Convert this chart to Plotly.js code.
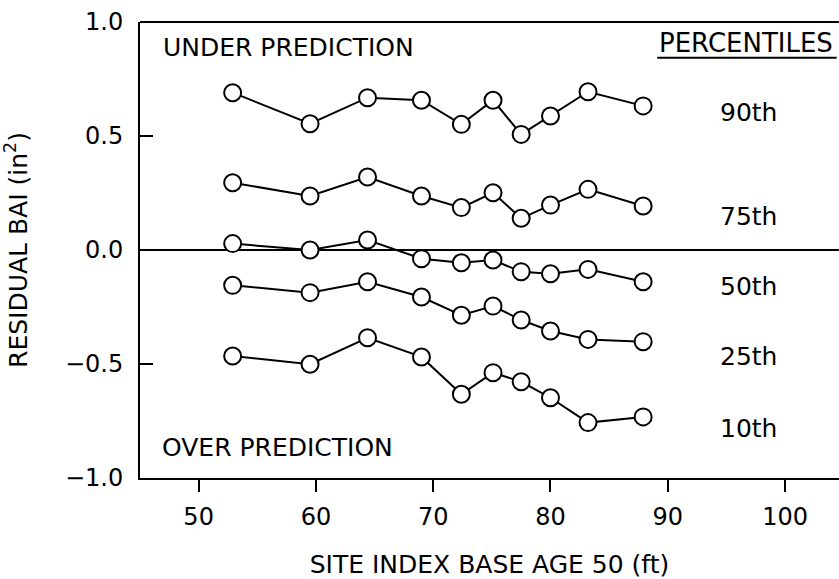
<!DOCTYPE html>
<html><head><meta charset="utf-8">
<script src="https://cdn.plot.ly/plotly-3.0.1.min.js"></script>
<style>html,body{margin:0;padding:0;background:#fff}</style>
</head><body><div id="chart" style="width:839px;height:579px"></div>
<script>
const siteIndex = [52.9, 59.5, 64.4, 69.0, 72.4, 75.1, 77.5, 80.0, 83.2, 87.9];
const p90 = [0.690, 0.554, 0.668, 0.657, 0.551, 0.657, 0.507, 0.588, 0.694, 0.632];
const p75 = [0.295, 0.237, 0.320, 0.237, 0.186, 0.251, 0.139, 0.197, 0.266, 0.193];
const p50 = [0.028, 0.000, 0.044, -0.038, -0.056, -0.044, -0.095, -0.104, -0.085, -0.139];
const p25 = [-0.155, -0.187, -0.139, -0.206, -0.286, -0.246, -0.307, -0.355, -0.392, -0.402];
const p10 = [-0.465, -0.501, -0.385, -0.469, -0.633, -0.538, -0.578, -0.648, -0.757, -0.732];
const seriesNames = ["90th", "75th", "50th", "25th", "10th"];
const seriesValues = [p90, p75, p50, p25, p10];
const labelY = [0.605, 0.149, -0.158, -0.465, -0.781];
const xTicks = [50, 60, 70, 80, 90, 100];
const yTicks = [-1.0, -0.5, 0.0, 0.5, 1.0];
const yTickText = ["\u22121.0", "\u22120.5", "0.0", "0.5", "1.0"];

const FONT = "DejaVu Sans, sans-serif";
const traces = seriesValues.map((vals, i) => ({
  x: siteIndex, y: vals, type: "scatter", mode: "lines+markers",
  name: seriesNames[i], showlegend: false,
  line: {color: "#000", width: 2},
  marker: {symbol: "circle", size: 17, color: "#fff", line: {color: "#000", width: 2}}
}));

const annotations = seriesNames.map((n, i) => ({
  x: 94.3, y: labelY[i], xref: "x", yref: "y", text: n, showarrow: false,
  xanchor: "left", yanchor: "middle", font: {family: FONT, size: 25, color: "#000"}
}));
annotations.push({x: 46.8, y: 0.886, xref: "x", yref: "y", text: "UNDER PREDICTION", showarrow: false,
  xanchor: "left", yanchor: "middle", font: {family: FONT, size: 25, color: "#000"}});
annotations.push({x: 46.7, y: -0.868, xref: "x", yref: "y", text: "OVER PREDICTION", showarrow: false,
  xanchor: "left", yanchor: "middle", font: {family: FONT, size: 25, color: "#000"}});
annotations.push({x: 89.1, y: 0.906, xref: "x", yref: "y", text: "PERCENTILES", showarrow: false,
  xanchor: "left", yanchor: "middle", font: {family: FONT, size: 26, color: "#000"}});

const layout = {
  width: 839, height: 579,
  margin: {l: 140, r: 0, t: 22, b: 101},
  paper_bgcolor: "#fff", plot_bgcolor: "#fff",
  font: {family: FONT, size: 24, color: "#000"},
  xaxis: {
    range: [45, 104.6], tickvals: xTicks, ticks: "outside", ticklen: 12, tickwidth: 2,
    tickcolor: "#000", showline: true, linecolor: "#000", linewidth: 2, mirror: false,
    showgrid: false, zeroline: false, ticklabelstandoff: 4,
    tickfont: {family: FONT, size: 24},
    title: {text: "SITE INDEX BASE AGE 50 (ft)", font: {family: FONT, size: 25}, standoff: 30}
  },
  yaxis: {
    range: [-1, 1], tickvals: yTicks, ticktext: yTickText, ticks: "inside", ticklen: 13, tickwidth: 2,
    tickcolor: "#000", showline: true, linecolor: "#000", linewidth: 2,
    showgrid: false, zeroline: true, zerolinecolor: "#000", zerolinewidth: 2,
    ticklabelstandoff: 10, tickfont: {family: FONT, size: 24},
    title: {text: "RESIDUAL BAI (in<sup>2</sup>)", font: {family: FONT, size: 25}, standoff: 32}
  },
  shapes: [
    {type: "line", xref: "paper", yref: "paper", x0: 0, x1: 1, y0: 1, y1: 1, line: {color: "#000", width: 2}},
    {type: "line", xref: "x", yref: "y", x0: 89.1, x1: 104.4, y0: 0.843, y1: 0.843, line: {color: "#000", width: 2}}
  ],
  annotations: annotations
};
Plotly.newPlot("chart", traces, layout, {displayModeBar: false, staticPlot: true});
</script></body></html>
